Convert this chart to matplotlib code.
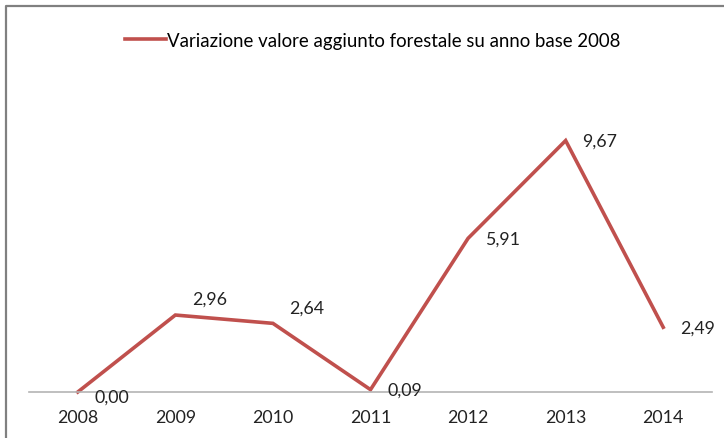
import matplotlib
matplotlib.use("Agg")
import matplotlib.pyplot as plt
from matplotlib.lines import Line2D

# dati
anni = ["2008", "2009", "2010", "2011", "2012", "2013", "2014"]
variazione = [0.00, 2.96, 2.64, 0.09, 5.91, 9.67, 2.49]
etichette = ["0,00", "2,96", "2,64", "0,09", "5,91", "9,67", "2,49"]
serie = "Variazione valore aggiunto forestale su anno base 2008"

ROSSO = "#C0504D"
plt.rcParams["font.family"] = ["Lato", "DejaVu Sans"]

W, H = 724, 439
fig = plt.figure(figsize=(W / 100, H / 100), dpi=100)
ax = fig.add_axes([29 / W, 1 - 393 / H, (712 - 29) / W, (393 - 81) / H])

x = list(range(len(anni)))
ax.plot(x, variazione, color=ROSSO, lw=2.6, solid_joinstyle="miter", label=serie, clip_on=False)

# spostamento verticale delle etichette (punti), come nel grafico originale
dy = [-3, 12, 11, 0, 0, 0, 0]
for xi, yi, t, d in zip(x, variazione, etichette, dy):
    ax.annotate(t, (xi, yi), xytext=(12, d), textcoords="offset points",
                ha="left", va="center", fontsize=12.8, color="#222222")

ax.set_xlim(-0.5, len(anni) - 0.5)
ax.set_ylim(0, 12)
ax.set_xticks(x)
ax.set_xticklabels(anni, fontsize=12.8, color="#222222")
ax.tick_params(axis="x", length=0, pad=12)
ax.set_yticks([])
for s in ["left", "right", "top"]:
    ax.spines[s].set_visible(False)
ax.spines["bottom"].set_color("#b4b4b4")
ax.spines["bottom"].set_linewidth(1.2)

fig.legend(loc="center", bbox_to_anchor=(373 / W, 1 - 41 / H), frameon=False,
           fontsize=13.4, handlelength=2.2, handletextpad=0.05,
           borderpad=0, borderaxespad=0)

# cornice del grafico (tagliata a destra e in basso)
fig.add_artist(Line2D([6 / W, 6 / W, 1], [0, 1 - 7 / H, 1 - 7 / H],
                      transform=fig.transFigure, color="#808080", lw=1.6))

fig.savefig("out.png", dpi=100)
